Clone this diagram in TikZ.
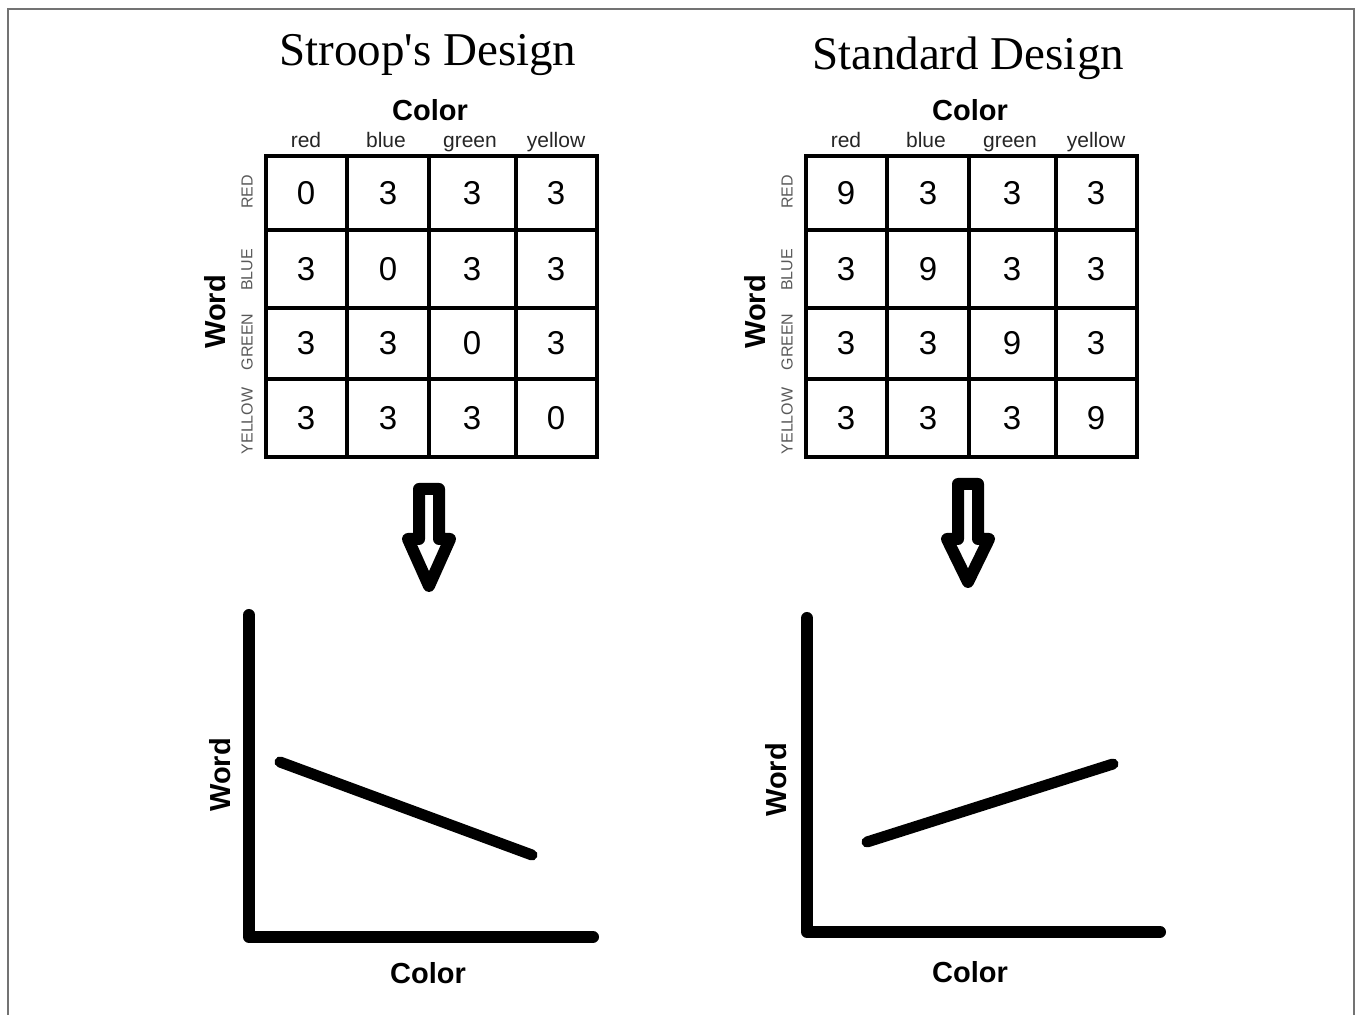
\documentclass[tikz,border=0pt]{standalone}
\usepackage{fontspec}
\setmainfont{Liberation Serif}
\setsansfont{Liberation Sans}
\begin{document}
\begin{tikzpicture}[x=0.5pt, y=-0.5pt,
    title/.style={font=\fontsize{23.5}{28}\selectfont, anchor=base, inner sep=0pt},
    axislabel/.style={font=\sffamily\bfseries\fontsize{14.5}{17}\selectfont, inner sep=0pt},
    collabel/.style={font=\sffamily\fontsize{10.5}{12}\selectfont, anchor=base, inner sep=0pt, text=black!85},
    rowlabel/.style={font=\sffamily\fontsize{8}{9}\selectfont, rotate=90, inner sep=0pt, text=black!65},
    cellnum/.style={font=\sffamily\fontsize{16.5}{19}\selectfont, inner sep=0pt},
    gridline/.style={line width=1.8pt},
    axis/.style={line width=6pt, line cap=round, line join=round},
    trend/.style={line width=5.5pt, line cap=round},
    hollow/.style={line width=6pt, line join=round}]
    \useasboundingbox (0,0) rectangle (1356,1015);
    \draw[black!55, line width=1pt] (8,1015) -- (8,9) -- (1354,9) -- (1354,1015);
    \node[title] (stroop) at (428,66) {Stroop\textquotesingle s Design};
    \node[title] (standard) at (968,70) {Standard Design};
    % the two tables
    \foreach \dx/\diag/\tb in {0/0/s, 540/9/t} {
      \begin{scope}[shift={(\dx,0)}]
        \node[axislabel] (\tb-color) at (430,110) {Color};
        \foreach \lab/\cx in {red/306, blue/386, green/470, yellow/556}
          \node[collabel] (\tb-\lab) at (\cx,148) {\lab};
        \foreach \lab/\cy in {RED/192, BLUE/270, GREEN/342, YELLOW/421}
          \node[rowlabel] (\tb-\lab) at (247,\cy) {\lab};
        \node[axislabel, rotate=90] (\tb-word) at (215,312) {Word};
        \draw[gridline] (266,156) rectangle (597,457);
        \foreach \x in {347,429,516} \draw[gridline] (\x,156) -- (\x,457);
        \foreach \y in {230,308,379} \draw[gridline] (266,\y) -- (597,\y);
        \foreach \cx [count=\c] in {306,388,472,556}
          \foreach \cy [count=\r] in {193,269,343,418} {
            \pgfmathtruncatemacro\val{\r==\c ? \diag : 3}
            \node[cellnum] (\tb-\r-\c) at (\cx,\cy) {\val};
          }
      \end{scope}
    }
    % hollow arrows
    \foreach \cx/\top/\tip in {429/489/586, 968/484/582}
      \draw[hollow] (\cx-10,\top) -- (\cx-10,539) -- (\cx-21,539) -- (\cx,\tip)
        -- (\cx+21,539) -- (\cx+10,539) -- (\cx+10,\top) -- cycle;
    % the two graphs
    \draw[axis] (249,615) -- (249,937) -- (593,937);
    \draw[trend] (280,762) -- (532,855);
    \node[axislabel, rotate=90] (s-gword) at (220,775) {Word};
    \node[axislabel] (s-gcolor) at (428,973) {Color};
    \draw[axis] (807,618) -- (807,932) -- (1160,932);
    \draw[trend] (867,842) -- (1113,764);
    \node[axislabel, rotate=90] (t-gword) at (776,780) {Word};
    \node[axislabel] (t-gcolor) at (970,972) {Color};
\end{tikzpicture}
\end{document}
